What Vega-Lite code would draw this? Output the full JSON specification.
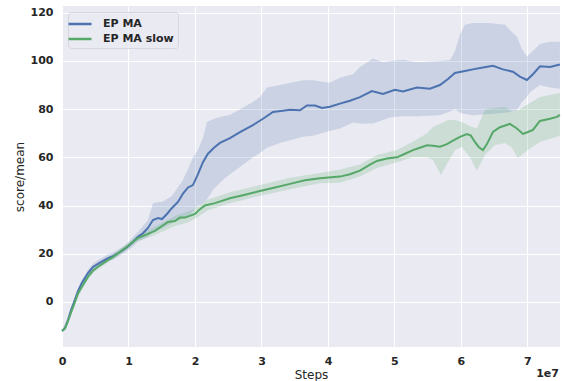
{
  "$schema": "https://vega.github.io/schema/vega-lite/v6.json",
  "width": 498,
  "height": 341,
  "autosize": {"type": "none"},
  "padding": {"left": 62, "top": 6, "right": 5, "bottom": 34},
  "background": "white",
  "datasets": {
    "line": [
      {"s": "EP MA", "x": 0, "y": -12},
      {"s": "EP MA", "x": 450000, "y": -11},
      {"s": "EP MA", "x": 900000, "y": -7.5},
      {"s": "EP MA", "x": 1350000, "y": -3.5},
      {"s": "EP MA", "x": 1950000, "y": 1},
      {"s": "EP MA", "x": 2400000, "y": 4.5},
      {"s": "EP MA", "x": 3000000, "y": 8},
      {"s": "EP MA", "x": 3900000, "y": 12},
      {"s": "EP MA", "x": 4660000, "y": 14.5},
      {"s": "EP MA", "x": 5410000, "y": 15.8},
      {"s": "EP MA", "x": 6170000, "y": 17},
      {"s": "EP MA", "x": 6920000, "y": 18.2},
      {"s": "EP MA", "x": 7670000, "y": 19},
      {"s": "EP MA", "x": 8420000, "y": 20.2},
      {"s": "EP MA", "x": 9170000, "y": 21.5},
      {"s": "EP MA", "x": 9920000, "y": 23},
      {"s": "EP MA", "x": 10680000, "y": 25},
      {"s": "EP MA", "x": 11430000, "y": 27},
      {"s": "EP MA", "x": 12180000, "y": 28.5},
      {"s": "EP MA", "x": 12930000, "y": 30.7},
      {"s": "EP MA", "x": 13680000, "y": 34},
      {"s": "EP MA", "x": 14440000, "y": 34.8},
      {"s": "EP MA", "x": 15040000, "y": 34.4},
      {"s": "EP MA", "x": 15790000, "y": 36.5},
      {"s": "EP MA", "x": 16540000, "y": 39},
      {"s": "EP MA", "x": 17440000, "y": 41.5},
      {"s": "EP MA", "x": 18200000, "y": 45},
      {"s": "EP MA", "x": 18950000, "y": 47.5},
      {"s": "EP MA", "x": 19700000, "y": 48.5},
      {"s": "EP MA", "x": 20450000, "y": 53},
      {"s": "EP MA", "x": 21200000, "y": 58},
      {"s": "EP MA", "x": 21950000, "y": 61.5},
      {"s": "EP MA", "x": 22860000, "y": 64},
      {"s": "EP MA", "x": 23760000, "y": 66},
      {"s": "EP MA", "x": 25260000, "y": 68},
      {"s": "EP MA", "x": 26770000, "y": 70.5},
      {"s": "EP MA", "x": 28720000, "y": 73.4},
      {"s": "EP MA", "x": 30230000, "y": 76},
      {"s": "EP MA", "x": 31730000, "y": 78.8},
      {"s": "EP MA", "x": 33230000, "y": 79.3},
      {"s": "EP MA", "x": 34290000, "y": 79.7},
      {"s": "EP MA", "x": 35790000, "y": 79.5},
      {"s": "EP MA", "x": 36840000, "y": 81.5},
      {"s": "EP MA", "x": 38050000, "y": 81.5},
      {"s": "EP MA", "x": 39100000, "y": 80.5},
      {"s": "EP MA", "x": 40300000, "y": 81},
      {"s": "EP MA", "x": 41800000, "y": 82.3},
      {"s": "EP MA", "x": 43310000, "y": 83.5},
      {"s": "EP MA", "x": 44810000, "y": 85},
      {"s": "EP MA", "x": 46620000, "y": 87.5},
      {"s": "EP MA", "x": 48270000, "y": 86.3},
      {"s": "EP MA", "x": 50080000, "y": 88},
      {"s": "EP MA", "x": 51280000, "y": 87.3},
      {"s": "EP MA", "x": 53380000, "y": 89},
      {"s": "EP MA", "x": 55340000, "y": 88.5},
      {"s": "EP MA", "x": 56840000, "y": 90},
      {"s": "EP MA", "x": 58050000, "y": 92.5},
      {"s": "EP MA", "x": 59100000, "y": 95},
      {"s": "EP MA", "x": 60600000, "y": 95.8},
      {"s": "EP MA", "x": 61800000, "y": 96.5},
      {"s": "EP MA", "x": 63310000, "y": 97.3},
      {"s": "EP MA", "x": 64810000, "y": 98},
      {"s": "EP MA", "x": 66320000, "y": 96.5},
      {"s": "EP MA", "x": 67820000, "y": 95.5},
      {"s": "EP MA", "x": 68870000, "y": 93.5},
      {"s": "EP MA", "x": 69920000, "y": 92.1},
      {"s": "EP MA", "x": 70830000, "y": 94.5},
      {"s": "EP MA", "x": 71880000, "y": 97.8},
      {"s": "EP MA", "x": 73380000, "y": 97.5},
      {"s": "EP MA", "x": 74890000, "y": 98.5},
      {"s": "EP MA slow", "x": 0, "y": -12},
      {"s": "EP MA slow", "x": 450000, "y": -11},
      {"s": "EP MA slow", "x": 900000, "y": -8},
      {"s": "EP MA slow", "x": 1350000, "y": -4.5},
      {"s": "EP MA slow", "x": 1950000, "y": 0},
      {"s": "EP MA slow", "x": 2400000, "y": 3.5},
      {"s": "EP MA slow", "x": 3000000, "y": 6.3},
      {"s": "EP MA slow", "x": 3900000, "y": 10.4},
      {"s": "EP MA slow", "x": 4660000, "y": 13},
      {"s": "EP MA slow", "x": 5410000, "y": 14.6},
      {"s": "EP MA slow", "x": 6170000, "y": 16},
      {"s": "EP MA slow", "x": 6920000, "y": 17.4},
      {"s": "EP MA slow", "x": 7670000, "y": 18.6},
      {"s": "EP MA slow", "x": 8420000, "y": 20.2},
      {"s": "EP MA slow", "x": 9170000, "y": 21.7},
      {"s": "EP MA slow", "x": 9920000, "y": 23.2},
      {"s": "EP MA slow", "x": 10680000, "y": 25},
      {"s": "EP MA slow", "x": 11430000, "y": 26.5},
      {"s": "EP MA slow", "x": 12480000, "y": 27.7},
      {"s": "EP MA slow", "x": 13980000, "y": 29.5},
      {"s": "EP MA slow", "x": 15040000, "y": 31.5},
      {"s": "EP MA slow", "x": 15940000, "y": 33.2},
      {"s": "EP MA slow", "x": 16990000, "y": 33.6},
      {"s": "EP MA slow", "x": 17740000, "y": 35},
      {"s": "EP MA slow", "x": 18500000, "y": 35},
      {"s": "EP MA slow", "x": 20000000, "y": 36.5},
      {"s": "EP MA slow", "x": 20750000, "y": 38.5},
      {"s": "EP MA slow", "x": 21500000, "y": 40},
      {"s": "EP MA slow", "x": 23000000, "y": 41},
      {"s": "EP MA slow", "x": 25260000, "y": 43},
      {"s": "EP MA slow", "x": 27520000, "y": 44.5},
      {"s": "EP MA slow", "x": 29770000, "y": 46},
      {"s": "EP MA slow", "x": 32030000, "y": 47.5},
      {"s": "EP MA slow", "x": 34290000, "y": 49},
      {"s": "EP MA slow", "x": 36540000, "y": 50.5},
      {"s": "EP MA slow", "x": 38800000, "y": 51.3},
      {"s": "EP MA slow", "x": 41800000, "y": 52},
      {"s": "EP MA slow", "x": 43310000, "y": 53},
      {"s": "EP MA slow", "x": 44810000, "y": 54.5},
      {"s": "EP MA slow", "x": 46320000, "y": 57},
      {"s": "EP MA slow", "x": 47370000, "y": 58.5},
      {"s": "EP MA slow", "x": 48870000, "y": 59.5},
      {"s": "EP MA slow", "x": 50380000, "y": 60},
      {"s": "EP MA slow", "x": 51580000, "y": 61.5},
      {"s": "EP MA slow", "x": 52780000, "y": 63},
      {"s": "EP MA slow", "x": 53830000, "y": 64},
      {"s": "EP MA slow", "x": 54890000, "y": 65},
      {"s": "EP MA slow", "x": 55790000, "y": 64.8},
      {"s": "EP MA slow", "x": 56840000, "y": 64.4},
      {"s": "EP MA slow", "x": 57890000, "y": 65.5},
      {"s": "EP MA slow", "x": 58800000, "y": 66.9},
      {"s": "EP MA slow", "x": 59850000, "y": 68.5},
      {"s": "EP MA slow", "x": 60900000, "y": 69.7},
      {"s": "EP MA slow", "x": 61500000, "y": 69},
      {"s": "EP MA slow", "x": 62100000, "y": 66.4},
      {"s": "EP MA slow", "x": 62700000, "y": 64.2},
      {"s": "EP MA slow", "x": 63310000, "y": 63},
      {"s": "EP MA slow", "x": 63910000, "y": 65.5},
      {"s": "EP MA slow", "x": 64810000, "y": 70.5},
      {"s": "EP MA slow", "x": 65860000, "y": 72.5},
      {"s": "EP MA slow", "x": 67370000, "y": 73.9},
      {"s": "EP MA slow", "x": 68420000, "y": 72},
      {"s": "EP MA slow", "x": 69320000, "y": 69.7},
      {"s": "EP MA slow", "x": 70080000, "y": 70.5},
      {"s": "EP MA slow", "x": 70830000, "y": 71.4},
      {"s": "EP MA slow", "x": 71880000, "y": 75.1},
      {"s": "EP MA slow", "x": 73380000, "y": 76},
      {"s": "EP MA slow", "x": 74440000, "y": 76.8},
      {"s": "EP MA slow", "x": 74890000, "y": 77.6}
    ],
    "band": [
      {"s": "EP MA", "x": 0, "lo": -12.5, "hi": -11.5},
      {"s": "EP MA", "x": 900000, "lo": -8.2, "hi": -6.8},
      {"s": "EP MA", "x": 1950000, "lo": 0, "hi": 2},
      {"s": "EP MA", "x": 3000000, "lo": 7, "hi": 9},
      {"s": "EP MA", "x": 3900000, "lo": 11, "hi": 13.2},
      {"s": "EP MA", "x": 4660000, "lo": 13.3, "hi": 15.8},
      {"s": "EP MA", "x": 5410000, "lo": 14.5, "hi": 17.3},
      {"s": "EP MA", "x": 6170000, "lo": 15.6, "hi": 18.5},
      {"s": "EP MA", "x": 6920000, "lo": 16.8, "hi": 19.7},
      {"s": "EP MA", "x": 7670000, "lo": 17.6, "hi": 20.5},
      {"s": "EP MA", "x": 8420000, "lo": 18.8, "hi": 21.7},
      {"s": "EP MA", "x": 9170000, "lo": 20, "hi": 23},
      {"s": "EP MA", "x": 9920000, "lo": 21.3, "hi": 24.7},
      {"s": "EP MA", "x": 10680000, "lo": 23, "hi": 27},
      {"s": "EP MA", "x": 11430000, "lo": 25, "hi": 29},
      {"s": "EP MA", "x": 12180000, "lo": 26, "hi": 31.5},
      {"s": "EP MA", "x": 12930000, "lo": 27, "hi": 34},
      {"s": "EP MA", "x": 13680000, "lo": 29, "hi": 41},
      {"s": "EP MA", "x": 14440000, "lo": 30, "hi": 41.5},
      {"s": "EP MA", "x": 15040000, "lo": 30.5, "hi": 41.5},
      {"s": "EP MA", "x": 16540000, "lo": 32.8, "hi": 44},
      {"s": "EP MA", "x": 18050000, "lo": 34.5, "hi": 50},
      {"s": "EP MA", "x": 18950000, "lo": 35.3, "hi": 55},
      {"s": "EP MA", "x": 19700000, "lo": 37.5, "hi": 60},
      {"s": "EP MA", "x": 20450000, "lo": 40, "hi": 63},
      {"s": "EP MA", "x": 21200000, "lo": 41, "hi": 68},
      {"s": "EP MA", "x": 21800000, "lo": 42.5, "hi": 74.7},
      {"s": "EP MA", "x": 22860000, "lo": 47, "hi": 76},
      {"s": "EP MA", "x": 24210000, "lo": 50.6, "hi": 77},
      {"s": "EP MA", "x": 25260000, "lo": 53, "hi": 77.6},
      {"s": "EP MA", "x": 26770000, "lo": 56, "hi": 80},
      {"s": "EP MA", "x": 28720000, "lo": 60, "hi": 83},
      {"s": "EP MA", "x": 29770000, "lo": 61.8, "hi": 85},
      {"s": "EP MA", "x": 30830000, "lo": 64, "hi": 89},
      {"s": "EP MA", "x": 32780000, "lo": 66, "hi": 90},
      {"s": "EP MA", "x": 36240000, "lo": 68.5, "hi": 92},
      {"s": "EP MA", "x": 37740000, "lo": 69, "hi": 92},
      {"s": "EP MA", "x": 40300000, "lo": 71, "hi": 91},
      {"s": "EP MA", "x": 41800000, "lo": 72, "hi": 93},
      {"s": "EP MA", "x": 43760000, "lo": 74.5, "hi": 94.5},
      {"s": "EP MA", "x": 44810000, "lo": 74, "hi": 97.5},
      {"s": "EP MA", "x": 46770000, "lo": 74, "hi": 101},
      {"s": "EP MA", "x": 48270000, "lo": 75.5, "hi": 99.5},
      {"s": "EP MA", "x": 49320000, "lo": 76.5, "hi": 100},
      {"s": "EP MA", "x": 51280000, "lo": 77, "hi": 100.5},
      {"s": "EP MA", "x": 53380000, "lo": 77, "hi": 99.5},
      {"s": "EP MA", "x": 56840000, "lo": 77.5, "hi": 100},
      {"s": "EP MA", "x": 58350000, "lo": 79, "hi": 100.4},
      {"s": "EP MA", "x": 59100000, "lo": 80, "hi": 104},
      {"s": "EP MA", "x": 59850000, "lo": 78.5, "hi": 111},
      {"s": "EP MA", "x": 60600000, "lo": 78, "hi": 115},
      {"s": "EP MA", "x": 61800000, "lo": 77.5, "hi": 115.7},
      {"s": "EP MA", "x": 64360000, "lo": 78, "hi": 115.7},
      {"s": "EP MA", "x": 66620000, "lo": 78.5, "hi": 115},
      {"s": "EP MA", "x": 67670000, "lo": 79, "hi": 112},
      {"s": "EP MA", "x": 68420000, "lo": 79.5, "hi": 110},
      {"s": "EP MA", "x": 69170000, "lo": 83, "hi": 105},
      {"s": "EP MA", "x": 69920000, "lo": 85, "hi": 101.8},
      {"s": "EP MA", "x": 70380000, "lo": 87, "hi": 103},
      {"s": "EP MA", "x": 71880000, "lo": 90, "hi": 107},
      {"s": "EP MA", "x": 73380000, "lo": 89, "hi": 108},
      {"s": "EP MA", "x": 74890000, "lo": 88.5, "hi": 108},
      {"s": "EP MA slow", "x": 0, "lo": -12.5, "hi": -11.5},
      {"s": "EP MA slow", "x": 900000, "lo": -8.7, "hi": -7.3},
      {"s": "EP MA slow", "x": 1950000, "lo": -1, "hi": 1},
      {"s": "EP MA slow", "x": 3000000, "lo": 5.3, "hi": 7.3},
      {"s": "EP MA slow", "x": 3900000, "lo": 9.3, "hi": 11.5},
      {"s": "EP MA slow", "x": 4660000, "lo": 12, "hi": 14},
      {"s": "EP MA slow", "x": 5410000, "lo": 13.6, "hi": 15.6},
      {"s": "EP MA slow", "x": 6920000, "lo": 16.4, "hi": 18.4},
      {"s": "EP MA slow", "x": 8420000, "lo": 19.2, "hi": 21.2},
      {"s": "EP MA slow", "x": 9920000, "lo": 22.2, "hi": 24.2},
      {"s": "EP MA slow", "x": 11430000, "lo": 25.3, "hi": 27.7},
      {"s": "EP MA slow", "x": 13980000, "lo": 27.8, "hi": 31.2},
      {"s": "EP MA slow", "x": 16990000, "lo": 31.5, "hi": 35.7},
      {"s": "EP MA slow", "x": 18950000, "lo": 33, "hi": 37.5},
      {"s": "EP MA slow", "x": 20000000, "lo": 34.5, "hi": 38.8},
      {"s": "EP MA slow", "x": 21950000, "lo": 38, "hi": 42.5},
      {"s": "EP MA slow", "x": 25260000, "lo": 41, "hi": 45.5},
      {"s": "EP MA slow", "x": 29770000, "lo": 44, "hi": 48.5},
      {"s": "EP MA slow", "x": 34290000, "lo": 46.8, "hi": 51.5},
      {"s": "EP MA slow", "x": 38800000, "lo": 49.3, "hi": 53.5},
      {"s": "EP MA slow", "x": 41800000, "lo": 49.5, "hi": 55},
      {"s": "EP MA slow", "x": 44810000, "lo": 52, "hi": 57},
      {"s": "EP MA slow", "x": 47370000, "lo": 55.6, "hi": 61},
      {"s": "EP MA slow", "x": 50380000, "lo": 58, "hi": 63},
      {"s": "EP MA slow", "x": 52780000, "lo": 60, "hi": 66.5},
      {"s": "EP MA slow", "x": 54890000, "lo": 60, "hi": 70},
      {"s": "EP MA slow", "x": 55790000, "lo": 58.9, "hi": 72.6},
      {"s": "EP MA slow", "x": 56990000, "lo": 52.7, "hi": 74},
      {"s": "EP MA slow", "x": 58050000, "lo": 58, "hi": 75.5},
      {"s": "EP MA slow", "x": 59100000, "lo": 63, "hi": 75.5},
      {"s": "EP MA slow", "x": 60150000, "lo": 64.3, "hi": 74.7},
      {"s": "EP MA slow", "x": 61350000, "lo": 60, "hi": 73},
      {"s": "EP MA slow", "x": 62400000, "lo": 54.4, "hi": 72},
      {"s": "EP MA slow", "x": 63610000, "lo": 61, "hi": 79.7},
      {"s": "EP MA slow", "x": 65110000, "lo": 65, "hi": 80.5},
      {"s": "EP MA slow", "x": 66620000, "lo": 66, "hi": 81},
      {"s": "EP MA slow", "x": 67670000, "lo": 64, "hi": 79},
      {"s": "EP MA slow", "x": 68570000, "lo": 59.7, "hi": 79.5},
      {"s": "EP MA slow", "x": 70080000, "lo": 63, "hi": 82},
      {"s": "EP MA slow", "x": 71880000, "lo": 66.4, "hi": 85},
      {"s": "EP MA slow", "x": 74440000, "lo": 68.5, "hi": 86.5},
      {"s": "EP MA slow", "x": 74890000, "lo": 69, "hi": 86.7}
    ]
  },
  "layer": [
    {
      "data": {"name": "band"},
      "mark": {"type": "area", "opacity": 0.2},
      "encoding": {
        "x": {
          "field": "x", "type": "quantitative",
          "scale": {"domain": [0, 74900000], "nice": false, "zero": false},
          "axis": {
            "title": "Steps",
            "values": [0, 10000000, 20000000, 30000000, 40000000, 50000000, 60000000, 70000000],
            "labelExpr": "format(datum.value / 10000000, 'd')",
            "labelFlush": false,
            "labelPadding": 8,
            "titlePadding": 3
          }
        },
        "y": {
          "field": "lo", "type": "quantitative",
          "scale": {"domain": [-18.7, 122.8], "nice": false, "zero": false},
          "axis": {
            "title": "score/mean",
            "values": [0, 20, 40, 60, 80, 100, 120],
            "labelFlush": false,
            "labelPadding": 9,
            "titlePadding": 4
          }
        },
        "y2": {"field": "hi"},
        "color": {
          "field": "s", "type": "nominal",
          "scale": {"domain": ["EP MA", "EP MA slow"], "range": ["#4C72B0", "#55A868"]}
        }
      }
    },
    {
      "data": {"name": "line"},
      "mark": {"type": "line", "strokeWidth": 2},
      "encoding": {
        "x": {"field": "x", "type": "quantitative"},
        "y": {"field": "y", "type": "quantitative"},
        "color": {"field": "s", "type": "nominal"}
      }
    },
    {
      "data": {"values": [{"t": "1e7"}]},
      "mark": {"type": "text", "align": "right", "baseline": "top", "dy": 21, "dx": -1, "font": "DejaVu Sans", "fontWeight": "bold", "fontSize": 11, "color": "#262626"},
      "encoding": {
        "x": {"datum": 74900000, "type": "quantitative"},
        "y": {"datum": -18.7, "type": "quantitative"},
        "text": {"field": "t"}
      }
    }
  ],
  "config": {
    "view": {"fill": "#EAEAF2", "stroke": null},
    "axis": {
      "grid": true,
      "gridColor": "#FFFFFF",
      "gridWidth": 1,
      "domain": false,
      "ticks": false,
      "labelFont": "DejaVu Sans",
      "labelFontWeight": "bold",
      "labelFontSize": 11,
      "labelColor": "#262626",
      "titleFont": "DejaVu Sans",
      "titleFontWeight": "normal",
      "titleFontSize": 12,
      "titleColor": "#262626"
    },
    "legend": {
      "title": null,
      "orient": "top-left",
      "offset": 6,
      "padding": 4,
      "fillColor": "rgba(234,234,242,0.8)",
      "strokeColor": "#D6D6DE",
      "cornerRadius": 3,
      "symbolType": "M-1.77,0H1.77",
      "symbolSize": 169,
      "symbolStrokeWidth": 2.5,
      "symbolOpacity": 1,
      "labelFont": "DejaVu Sans",
      "labelFontWeight": "bold",
      "labelFontSize": 11,
      "labelColor": "#262626",
      "labelOffset": 15,
      "rowPadding": 2
    }
  }
}
